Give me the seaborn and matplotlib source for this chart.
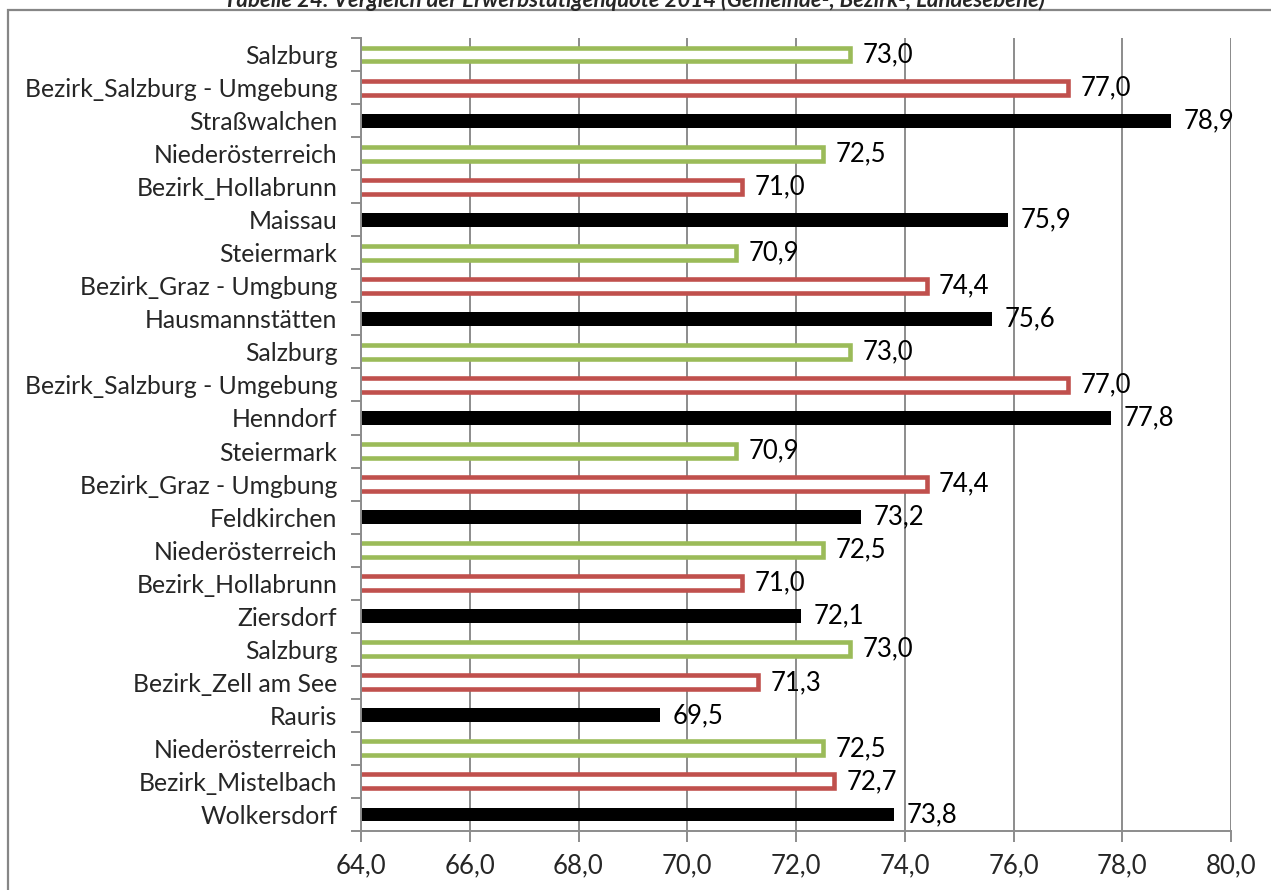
import matplotlib
matplotlib.use("Agg")
import matplotlib.pyplot as plt
from matplotlib.patches import Rectangle
from matplotlib.ticker import FixedLocator, MultipleLocator, FuncFormatter
import pandas as pd
import seaborn as sns

# Erwerbstätigenquote 2014, von oben nach unten
labels = [
    "Salzburg", "Bezirk_Salzburg - Umgebung", "Straßwalchen",
    "Niederösterreich", "Bezirk_Hollabrunn", "Maissau",
    "Steiermark", "Bezirk_Graz - Umgbung", "Hausmannstätten",
    "Salzburg", "Bezirk_Salzburg - Umgebung", "Henndorf",
    "Steiermark", "Bezirk_Graz - Umgbung", "Feldkirchen",
    "Niederösterreich", "Bezirk_Hollabrunn", "Ziersdorf",
    "Salzburg", "Bezirk_Zell am See", "Rauris",
    "Niederösterreich", "Bezirk_Mistelbach", "Wolkersdorf",
]
values = [
    73.0, 77.0, 78.9,
    72.5, 71.0, 75.9,
    70.9, 74.4, 75.6,
    73.0, 77.0, 77.8,
    70.9, 74.4, 73.2,
    72.5, 71.0, 72.1,
    73.0, 71.3, 69.5,
    72.5, 72.7, 73.8,
]
levels = ["Land", "Bezirk", "Gemeinde"] * 8

palette = {"Land": "#9BBB59", "Bezirk": "#C0504D", "Gemeinde": "#000000"}

df = pd.DataFrame({
    "slot": [str(i) for i in range(len(labels))],
    "quote": values,
    "ebene": levels,
})

sns.set_theme(style="white")
plt.rcParams["font.family"] = ["Lato", "DejaVu Sans"]

NAME_SIZE = 17.8
NUM_SIZE = 18.5

fig = plt.figure(figsize=(12.71, 8.90), dpi=100)
ax = fig.add_axes([361 / 1271, 1 - 831 / 890, 870 / 1271, 793 / 890])

sns.barplot(
    data=df, x="quote", y="slot", hue="ebene", order=df["slot"].tolist(),
    hue_order=["Land", "Bezirk", "Gemeinde"], palette=palette,
    dodge=False, orient="h", width=0.42, legend=False, ax=ax,
)

# Landes- und Bezirkswerte als hohle Balken
for container, lvl in zip(ax.containers, ["Land", "Bezirk", "Gemeinde"]):
    for bar in container:
        if lvl == "Gemeinde":
            bar.set_facecolor("black")
            bar.set_edgecolor("none")
        else:
            bar.set_facecolor("white")
            bar.set_edgecolor(palette[lvl])
            bar.set_linewidth(3.3)
    ax.bar_label(
        container,
        labels=[f"{v:.1f}".replace(".", ",") for v in container.datavalues],
        padding=9, fontsize=NUM_SIZE, color="black",
    )

ax.set_xlim(64, 80)
ax.xaxis.set_major_locator(MultipleLocator(2))
ax.xaxis.set_major_formatter(FuncFormatter(lambda v, p: f"{v:.1f}".replace(".", ",")))
ax.set_yticks(range(len(labels)))
ax.set_yticklabels(labels)
ax.yaxis.set_minor_locator(FixedLocator([i - 0.5 for i in range(len(labels) + 1)]))
ax.set_ylim(len(labels) - 0.5, -0.5)
ax.set_xlabel("")
ax.set_ylabel("")

grid_c = "#8C8C8C"
ax.grid(axis="x", color=grid_c, linewidth=1.4)
ax.set_axisbelow(True)
for side in ["top", "right"]:
    ax.spines[side].set_visible(False)
for side in ["left", "bottom"]:
    ax.spines[side].set_color(grid_c)
    ax.spines[side].set_linewidth(1.4)
ax.axvline(80, color=grid_c, linewidth=1.4, zorder=0.5)

ax.tick_params(axis="x", which="major", direction="out", length=8, width=1.4,
               color=grid_c, labelsize=NUM_SIZE, pad=8, bottom=True)
ax.tick_params(axis="y", which="major", length=0, labelsize=NAME_SIZE, pad=17)
ax.tick_params(axis="y", which="minor", direction="out", length=7, width=1.4,
               color=grid_c, left=True)

# Rahmen um das Diagramm
fig.patches.append(Rectangle((8 / 1271, -0.05), 1.1, 1 - 10 / 890 + 0.05,
                             transform=fig.transFigure, fill=False,
                             edgecolor="#868686", linewidth=1.6))

fig.text(634 / 1271, 1 - 7 / 890,
         "Tabelle 24: Vergleich der Erwerbstätigenquote 2014 (Gemeinde-, Bezirk-, Landesebene)",
         ha="center", va="baseline", fontsize=16, fontweight="bold", style="italic")

fig.savefig("out.png", dpi=100)
